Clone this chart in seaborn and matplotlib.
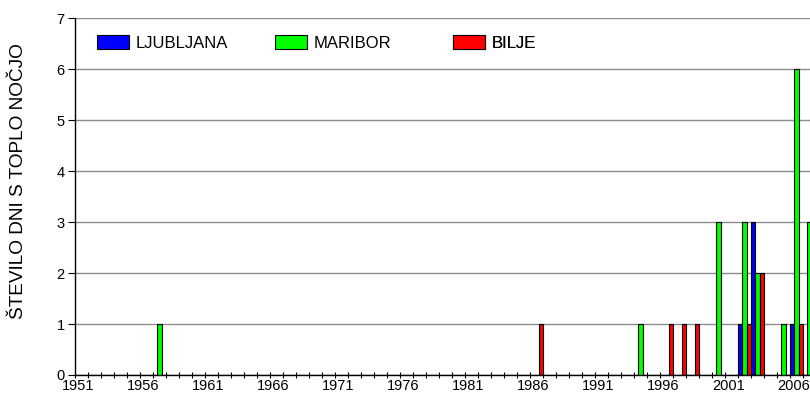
import matplotlib
matplotlib.use('Agg')
import matplotlib.pyplot as plt
import matplotlib.transforms as mtransforms
import pandas as pd
import seaborn as sns
import numpy as np

# number of warm nights per year at three stations, 1951-2007
years = list(range(1951, 2008))

ljubljana = [0, 0, 0, 0, 0, 0, 0, 0, 0, 0,   # 1951-1960
             0, 0, 0, 0, 0, 0, 0, 0, 0, 0,   # 1961-1970
             0, 0, 0, 0, 0, 0, 0, 0, 0, 0,   # 1971-1980
             0, 0, 0, 0, 0, 0, 0, 0, 0, 0,   # 1981-1990
             0, 0, 0, 0, 0, 0, 0, 0, 0, 0,   # 1991-2000
             0, 1, 3, 0, 0, 1, 0]            # 2001-2007

maribor = [0, 0, 0, 0, 0, 0, 1, 0, 0, 0,
           0, 0, 0, 0, 0, 0, 0, 0, 0, 0,
           0, 0, 0, 0, 0, 0, 0, 0, 0, 0,
           0, 0, 0, 0, 0, 0, 0, 0, 0, 0,
           0, 0, 0, 1, 0, 0, 0, 0, 0, 3,
           0, 3, 2, 0, 1, 6, 3]

bilje = [0, 0, 0, 0, 0, 0, 0, 0, 0, 0,
         0, 0, 0, 0, 0, 0, 0, 0, 0, 0,
         0, 0, 0, 0, 0, 0, 0, 0, 0, 0,
         0, 0, 0, 0, 0, 1, 0, 0, 0, 0,
         0, 0, 0, 0, 0, 1, 1, 1, 0, 0,
         0, 1, 2, 0, 0, 1, 0]

stations = ['LJUBLJANA', 'MARIBOR', 'BILJE']
colors = ['#0000FF', '#00FF00', '#FF0000']
tick_years = ['1951', '1956', '1961', '1966', '1971', '1976',
              '1981', '1986', '1991', '1996', '2001', '2006']

# long format for seaborn
df = pd.DataFrame({'year': years * 3,
                   'station': np.repeat(stations, len(years)),
                   'days': ljubljana + maribor + bilje})

plt.rcParams['font.family'] = ['Liberation Sans', 'DejaVu Sans']

fig = plt.figure(figsize=(8.1, 3.94), dpi=100)
W, H = 810, 394
# axes extends past the right edge, like the cropped original
ax = fig.add_axes([75 / W, 19 / H, 741 / W, 356.7 / H])

sns.barplot(data=df, x='year', y='days', hue='station', order=years,
            hue_order=stations, palette=colors, width=1.0, errorbar=None,
            edgecolor='black', linewidth=0.8, saturation=1, legend=False, ax=ax)

ax.set_xlim(-0.5, len(years) - 0.5)
ax.set_ylim(0, 7)
ax.set_yticks(range(0, 8))
ax.yaxis.grid(True, color='#8c8c8c', linewidth=1)
ax.set_axisbelow(True)

# ticks between categories, labels every 5 years
ax.set_xticks(np.arange(len(years) + 1) - 0.5, labels=[])
ax.set_xticks(range(0, len(years), 5), labels=tick_years, minor=True)
ax.tick_params(axis='x', which='major', direction='inout', length=5, width=0.8, color='black')
ax.tick_params(axis='x', which='minor', length=0, pad=3, labelsize=10.5)
ax.tick_params(axis='y', direction='out', length=5, width=0.8, pad=2.5, labelsize=10.5)

# year labels sit a little left of the category centre in the original
shift = mtransforms.ScaledTranslation(-3 / 100, 0, fig.dpi_scale_trans)
for lab in ax.get_xticklabels(minor=True):
    lab.set_transform(lab.get_transform() + shift)

for side in ['top', 'right']:
    ax.spines[side].set_visible(False)
for side in ['left', 'bottom']:
    ax.spines[side].set_color('black')
    ax.spines[side].set_linewidth(1)

ax.set_xlabel('')
ax.set_ylabel('ŠTEVILO DNI S TOPLO NOČJO', fontsize=13.7)
ax.yaxis.set_label_coords(-48 / 741, (375 - 181.5) / 356.7)

# one legend entry per station, evenly spaced like the original
for i, name in enumerate(stations):
    leg = ax.legend([ax.containers[i]], [name], loc='center left',
                    bbox_to_anchor=((97 + 178 * i) / W, 1 - 43 / H),
                    bbox_transform=fig.transFigure, frameon=False,
                    fontsize=12, handlelength=1.92, handleheight=0.9,
                    handletextpad=0.42, borderpad=0, borderaxespad=0)
    ax.add_artist(leg)

fig.savefig('out.png', dpi=100)
